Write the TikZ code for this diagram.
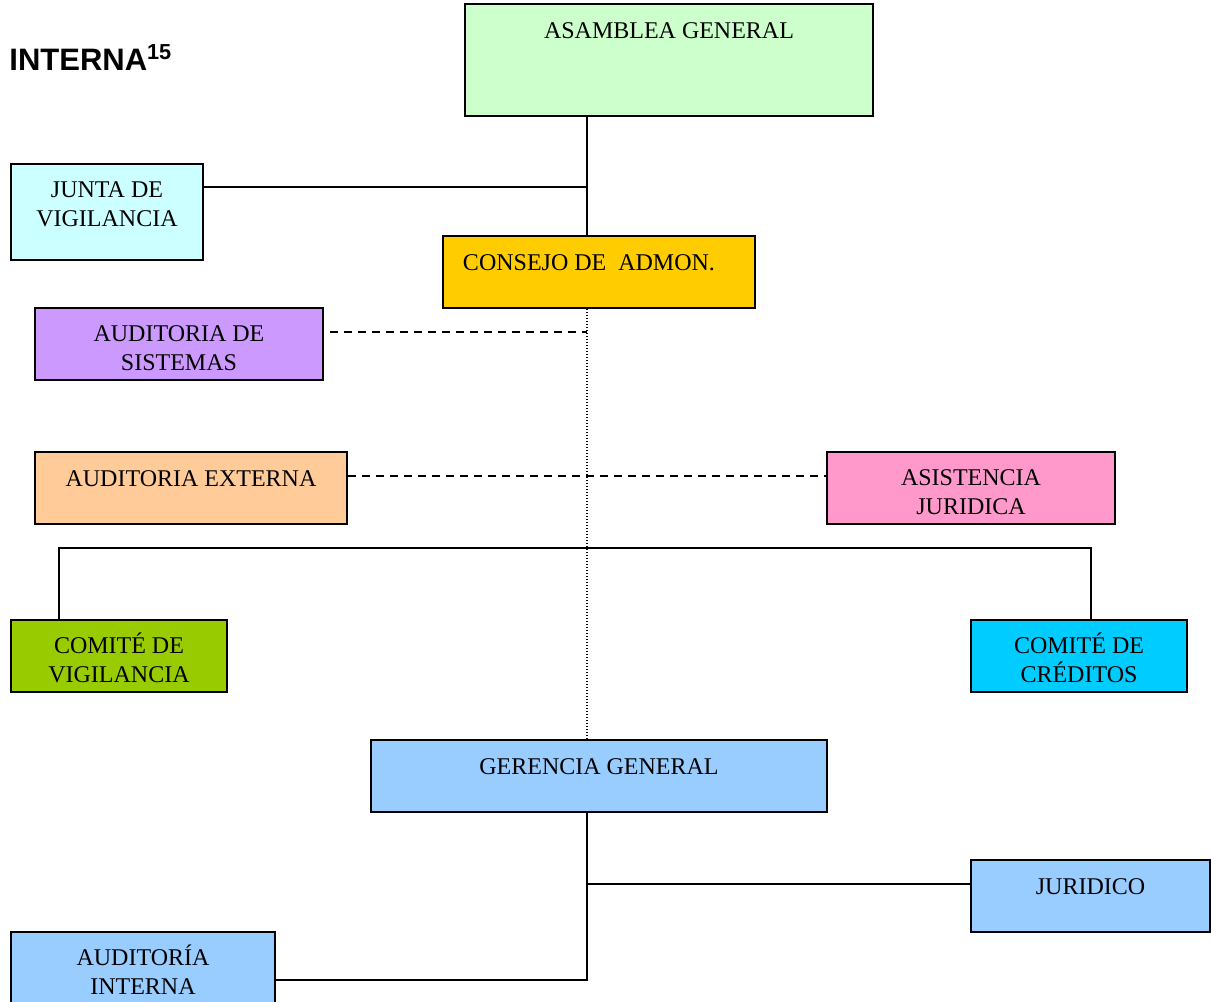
\documentclass[tikz,border=0pt]{standalone}
\usepackage{fontspec}
\setmainfont{Liberation Serif}
\newfontfamily\arial{Liberation Sans}
\usetikzlibrary{fit,shadows}

\definecolor{verde}{HTML}{CCFFCC}
\definecolor{celeste}{HTML}{CCFFFF}
\definecolor{oro}{HTML}{FFCC00}
\definecolor{lila}{HTML}{CC99FF}
\definecolor{durazno}{HTML}{FFCC99}
\definecolor{rosa}{HTML}{FF99CC}
\definecolor{pasto}{HTML}{99CC00}
\definecolor{cielo}{HTML}{00CCFF}
\definecolor{azul}{HTML}{99CCFF}

\tikzset{
    caja/.style={draw, line width=1pt, inner sep=0pt,
        drop shadow={shadow xshift=0.7pt, shadow yshift=-0.7pt, fill=black!45, opacity=1}},
    texto/.style={font=\fontsize{12pt}{14.5pt}\selectfont, align=center, anchor=base, inner sep=0pt},
    linea/.style={line width=0.75pt},
    rayado/.style={line width=0.75pt, dash pattern=on 4pt off 3pt},
    punteado/.style={line width=0.75pt, dash pattern=on 0.5pt off 1pt}
}

\begin{document}
\begin{tikzpicture}[x=0.5pt, y=-0.5pt]
    \useasboundingbox (0, 0) rectangle (1211, 1002);
    \node[anchor=base west, inner sep=0pt, font=\arial\bfseries\fontsize{15.5pt}{18pt}\selectfont]
        (titulo) at (9, 70) {INTERNA\textsuperscript{15}};
    % cajas del organigrama
    \node[caja, fill=verde, fit={(465, 4) (873, 116)}] (asamblea) {};
    \node[caja, fill=celeste, fit={(11, 164) (203, 260)}] (junta) {};
    \node[caja, fill=oro, fit={(443, 236) (755, 308)}] (consejo) {};
    \node[caja, fill=lila, fit={(35, 308) (323, 380)}] (sistemas) {};
    \node[caja, fill=durazno, fit={(35, 452) (347, 524)}] (externa) {};
    \node[caja, fill=rosa, fit={(827, 452) (1115, 524)}] (asistencia) {};
    \node[caja, fill=pasto, fit={(11, 620) (227, 692)}] (comiteV) {};
    \node[caja, fill=cielo, fit={(971, 620) (1187, 692)}] (comiteC) {};
    \node[caja, fill=azul, fit={(371, 740) (827, 812)}] (gerencia) {};
    \node[caja, fill=azul, fit={(971, 860) (1210, 932)}] (juridico) {};
    \node[caja, fill=azul, fit={(11, 932) (275, 1010)}] (interna) {};
    % textos
    \node[texto] (asamblea-t) at ([yshift=-17.7pt]asamblea.north) {ASAMBLEA GENERAL};
    \node[texto] (junta-t) at ([yshift=-31.7pt]junta.north) {JUNTA DE\\VIGILANCIA};
    \node[texto] (consejo-t) at ([xshift=-5pt, yshift=-17.7pt]consejo.north) {CONSEJO DE~~ADMON.};
    \node[texto] (sistemas-t) at ([yshift=-31.7pt]sistemas.north) {AUDITORIA DE\\SISTEMAS};
    \node[texto] (externa-t) at ([yshift=-17.7pt]externa.north) {AUDITORIA EXTERNA};
    \node[texto] (asistencia-t) at ([yshift=-31.7pt]asistencia.north) {ASISTENCIA\\JURIDICA};
    \node[texto] (comiteV-t) at ([yshift=-31.7pt]comiteV.north) {COMITÉ DE\\VIGILANCIA};
    \node[texto] (comiteC-t) at ([yshift=-31.7pt]comiteC.north) {COMITÉ DE\\CRÉDITOS};
    \node[texto] (gerencia-t) at ([yshift=-17.7pt]gerencia.north) {GERENCIA GENERAL};
    \node[texto] (juridico-t) at ([yshift=-17.7pt]juridico.north) {JURIDICO};
    \node[texto] (interna-t) at ([yshift=-31.7pt]interna.north) {AUDITORÍA\\INTERNA};
    % puntos de quiebre
    \coordinate (eje) at (587, 0);
    \coordinate (c1) at (587, 187);
    \coordinate (c2) at (587, 332);
    \coordinate (c3) at (587, 476);
    \coordinate (c4) at (59, 548);
    \coordinate (c5) at (1091, 548);
    \coordinate (c6) at (587, 980);
    \coordinate (c7) at (587, 884);
    % conectores
    \draw[linea] (asamblea.south -| eje) -- (consejo.north -| eje);
    \draw[linea] (c1 -| junta.east) -- (c1);
    \draw[punteado] (consejo.south -| eje) -- (gerencia.north -| eje);
    \draw[rayado] ([xshift=3pt]c2 -| sistemas.east) -- (c2);
    \draw[rayado] (c3 -| externa.east) -- (c3 -| asistencia.west);
    \draw[linea] (c4 |- comiteV.north) -- (c4) -- (c5) -- (c5 |- comiteC.north);
    \draw[linea] (gerencia.south -| c6) -- (c6) -- (c6 -| interna.east);
    \draw[linea] (c7) -- (c7 -| juridico.west);
\end{tikzpicture}
\end{document}
